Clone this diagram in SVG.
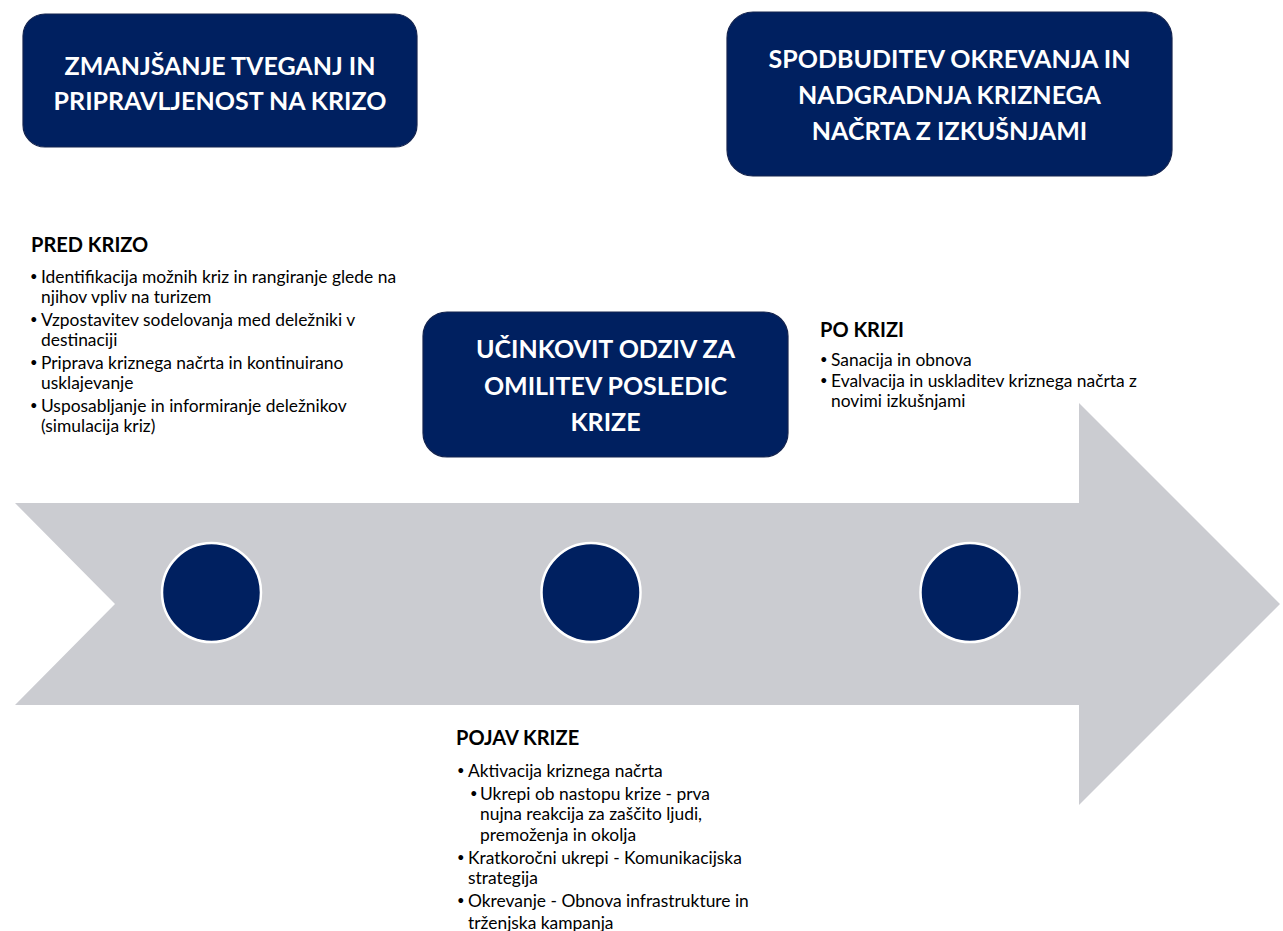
<svg xmlns="http://www.w3.org/2000/svg" width="1283" height="931" viewBox="0 0 1283 931">
<style>
.box{fill:#002060;stroke:#14244f;stroke-width:1.2}
.bt{font-family:Lato,"Open Sans",sans-serif;font-weight:bold;font-size:25px;fill:#ffffff;text-anchor:middle}
.hd{font-family:Lato,"Open Sans",sans-serif;font-weight:bold;font-size:20px;fill:#000000}
.tx{font-family:Lato,"Open Sans",sans-serif;font-size:17.4px;fill:#000000}
.bl{font-family:Lato,"Open Sans",sans-serif;font-size:13px;fill:#000000}
.dot{fill:#002060;stroke:#ffffff;stroke-width:2.5}
</style>
<rect width="1283" height="931" fill="#ffffff"/>
<g id="timeline-arrow">
<polygon points="15,503 1079,503 1079,403 1280,604 1079,805 1079,705 15,705 115,604" fill="#cbccd1"/>
</g>
<g id="connectors"></g>
<g id="circle-1"><circle class="dot" cx="211.5" cy="592.5" r="49.5"/></g>
<g id="circle-2"><circle class="dot" cx="591" cy="592.5" r="49.5"/></g>
<g id="circle-3"><circle class="dot" cx="970" cy="592.5" r="49.5"/></g>
<g id="box-prepare">
<rect class="box" x="23" y="14" width="394" height="133" rx="22"/>
<text class="bt" x="220" y="75">ZMANJŠANJE TVEGANJ IN</text>
<text class="bt" x="220" y="110">PRIPRAVLJENOST NA KRIZO</text>
</g>
<g id="box-recovery">
<rect class="box" x="727" y="12" width="445" height="164" rx="26"/>
<text class="bt" x="949.5" y="68">SPODBUDITEV OKREVANJA IN</text>
<text class="bt" x="949.5" y="104">NADGRADNJA KRIZNEGA</text>
<text class="bt" x="949.5" y="140">NAČRTA Z IZKUŠNJAMI</text>
</g>
<g id="box-response">
<rect class="box" x="423" y="312" width="365" height="145" rx="24"/>
<text class="bt" x="605.5" y="358">UČINKOVIT ODZIV ZA</text>
<text class="bt" x="605.5" y="395">OMILITEV POSLEDIC</text>
<text class="bt" x="605.5" y="431">KRIZE</text>
</g>
<g id="text-pred">
<text class="hd" x="31" y="252">PRED KRIZO</text>
<text class="bl" x="30" y="281">•</text><text class="tx" x="41" y="283">Identifikacija možnih kriz in rangiranje glede na</text>
<text class="tx" x="41" y="303">njihov vpliv na turizem</text>
<text class="bl" x="30" y="324">•</text><text class="tx" x="41" y="326">Vzpostavitev sodelovanja med deležniki v</text>
<text class="tx" x="41" y="346">destinaciji</text>
<text class="bl" x="30" y="367">•</text><text class="tx" x="41" y="369">Priprava kriznega načrta in kontinuirano</text>
<text class="tx" x="41" y="389">usklajevanje</text>
<text class="bl" x="30" y="410">•</text><text class="tx" x="41" y="412">Usposabljanje in informiranje deležnikov</text>
<text class="tx" x="41" y="432">(simulacija kriz)</text>
</g>
<g id="text-po">
<text class="hd" x="820" y="337">PO KRIZI</text>
<text class="bl" x="820" y="364">•</text><text class="tx" x="831" y="366">Sanacija in obnova</text>
<text class="bl" x="820" y="385">•</text><text class="tx" x="831" y="387">Evalvacija in uskladitev kriznega načrta z</text>
<text class="tx" x="831" y="407">novimi izkušnjami</text>
</g>
<g id="text-pojav">
<text class="hd" x="456" y="745">POJAV KRIZE</text>
<text class="bl" x="457" y="775">•</text><text class="tx" x="468" y="777">Aktivacija kriznega načrta</text>
<text class="bl" x="470" y="798">•</text><text class="tx" x="480" y="800">Ukrepi ob nastopu krize - prva</text>
<text class="tx" x="480" y="820">nujna reakcija za zaščito ljudi,</text>
<text class="tx" x="480" y="841">premoženja in okolja</text>
<text class="bl" x="457" y="862">•</text><text class="tx" x="468" y="864">Kratkoročni ukrepi - Komunikacijska</text>
<text class="tx" x="468" y="884">strategija</text>
<text class="bl" x="457" y="905">•</text><text class="tx" x="468" y="907">Okrevanje - Obnova infrastrukture in</text>
<text class="tx" x="468" y="929">trženjska kampanja</text>
</g>
</svg>
